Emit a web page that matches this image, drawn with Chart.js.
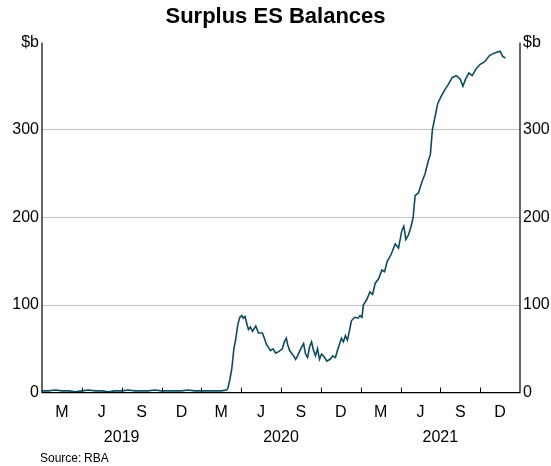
<!DOCTYPE html>
<html><head><meta charset="utf-8">
<script src="https://cdn.jsdelivr.net/npm/chart.js@4/dist/chart.umd.min.js"></script>
<style>body{margin:0;background:#fff}#w{width:551px;height:466px}</style>
</head><body><div id="w"><canvas id="c"></canvas></div>
<script>
// months since Jan 2019
const months = [0,0.5,1,1.5,2,2.5,3,3.5,4,4.5,5,5.5,6,6.5,7,7.5,8,8.5,9,9.5,10,10.5,11,11.5,12,12.5,13,13.5,13.9,14.0,14.15,14.3,14.45,14.6,14.75,14.9,15.05,15.15,15.3,15.4,15.55,15.7,15.85,16.1,16.3,16.6,16.75,16.9,17.05,17.2,17.4,17.6,17.85,18.1,18.25,18.4,18.5,18.65,18.8,18.95,19.1,19.25,19.4,19.55,19.7,19.85,20.0,20.15,20.3,20.45,20.6,20.75,20.9,21.05,21.2,21.45,21.7,21.9,22.1,22.25,22.4,22.55,22.7,22.85,23.0,23.15,23.3,23.55,23.8,23.95,24.1,24.2,24.45,24.7,24.9,25.1,25.35,25.6,25.8,26.0,26.3,26.6,26.85,27.1,27.25,27.4,27.6,27.8,27.95,28.1,28.35,28.6,28.85,29.1,29.25,29.4,29.6,29.8,30.05,30.3,30.6,30.9,31.2,31.5,31.7,31.9,32.15,32.4,32.7,33.0,33.35,33.7,34.1,34.5,34.7,34.9];
const balances = [2,2,3,2,2,1,2,3,2,2,1,2,2,3,2,2,2,3,2,2,2,2,3,2,2,2,2,2,3,5,15,28,50,62,78,86,88,85,87,80,72,75,70,76,68,68,62,55,52,48,50,45,47,50,58,62,55,48,45,42,38,42,47,52,56,44,40,52,58,48,42,50,38,44,42,36,38,42,40,48,55,62,58,65,60,70,82,86,85,88,86,100,106,115,112,125,130,140,138,150,158,170,165,185,190,175,180,190,200,225,228,240,250,265,272,300,315,330,338,345,352,360,362,358,350,358,365,362,370,375,378,385,388,390,384,382];
const quarterTicks = [3,6,9,12,15,18,21,24,27,30,33];
const quarterLabels = ['M','J','S','D','M','J','S','D','M','J','S','D'];
const yearTicks = [6,18,30];
const yearLabels = ['2019','2020','2021'];
const yTicks = [0,100,200,300,400];

const F = 'Liberation Sans, Arial, sans-serif';
const fixW = w => s => { s.width = w; };
const tickPlugin = {
  id:'tk',
  afterDatasetsDraw(ch){
    const c=ch.ctx, x=ch.scales.x, a=ch.chartArea;
    c.save(); c.strokeStyle='#000'; c.lineWidth=1;
    quarterTicks.forEach(v=>{const p=Math.round(x.getPixelForValue(v))+0.5;c.beginPath();c.moveTo(p,a.bottom);c.lineTo(p,a.bottom-5);c.stroke();});
    c.lineWidth=1.2;
    c.beginPath();c.moveTo(a.left,a.top);c.lineTo(a.left,a.bottom);c.lineTo(a.right,a.bottom);c.lineTo(a.right,a.top);c.stroke();
    c.fillStyle='#000';c.font='12px '+F;c.textBaseline='alphabetic';c.fillText('Source:',40,462);c.fillText('RBA',84,462);
    c.restore();
  }
};
new Chart(document.getElementById('c'),{
  type:'scatter',
  data:{datasets:[{data:months.map((m,i)=>({x:m,y:balances[i]})),showLine:true,borderColor:'#0d4b5e',borderWidth:1.6,pointRadius:0,tension:0}]},
  options:{
    responsive:true,maintainAspectRatio:false,animation:false,
    layout:{padding:{top:0,left:0,right:0,bottom:23}},
    plugins:{legend:{display:false},tooltip:{enabled:false},
      title:{display:true,text:'Surplus ES Balances',font:{family:F,size:22,weight:'bold'},color:'#000',padding:{top:4,bottom:12}}},
    scales:{
      x:{type:'linear',min:0,max:36,position:'bottom',
        afterBuildTicks:s=>{s.ticks=quarterLabels.map((l,i)=>({value:1.5+3*i}));},
        ticks:{callback:(v,i)=>quarterLabels[i],font:{family:F,size:16},color:'#000',maxRotation:0,autoSkip:false,padding:2},
        grid:{display:false},border:{display:false}},
      x2:{type:'linear',min:0,max:36,position:'bottom',
        afterBuildTicks:s=>{s.ticks=yearTicks.map(v=>({value:v}));},
        ticks:{callback:(v,i)=>yearLabels[i],font:{family:F,size:16},color:'#000',maxRotation:0,autoSkip:false,padding:-4},
        grid:{display:false},border:{display:false}},
      y:{min:0,max:400,position:'left',afterFit:fixW(42),
        afterBuildTicks:s=>{s.ticks=yTicks.map(v=>({value:v}));},
        ticks:{callback:v=>v===400?'$b':v,font:{family:F,size:16},color:'#000',padding:3},
        grid:{color:c=>(c.tick&&(c.tick.value===0||c.tick.value===400))?'rgba(0,0,0,0)':'#c0c0c0',drawTicks:false,lineWidth:1},border:{display:false}},
      y2:{min:0,max:400,position:'right',afterFit:fixW(31),
        afterBuildTicks:s=>{s.ticks=yTicks.map(v=>({value:v}));},
        ticks:{callback:v=>v===400?'$b':v,font:{family:F,size:16},color:'#000',padding:3},
        grid:{display:false,drawTicks:false},border:{display:false}}
    }
  },
  plugins:[tickPlugin]
});
</script></body></html>
